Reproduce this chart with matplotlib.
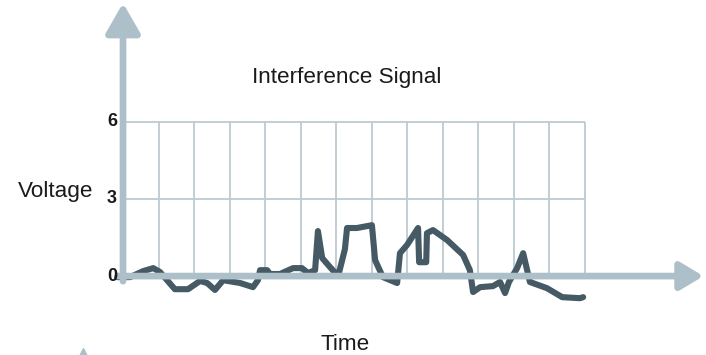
import matplotlib
matplotlib.use('Agg')
import matplotlib.pyplot as plt

# signal trace (time in grid cells, voltage)
time = [-0.17, 0.20, 0.56, 0.85, 1.04, 1.46, 1.83, 2.17, 2.37, 2.59, 2.82, 3.30, 3.66,
        3.80, 3.86, 4.06, 4.14, 4.42, 4.79, 5.04, 5.21, 5.41, 5.49, 5.61, 5.83, 6.06,
        6.25, 6.31, 6.59, 7.01, 7.10, 7.32, 7.72, 7.80, 8.00, 8.31, 8.34, 8.54, 8.56,
        8.73, 9.13, 9.58, 9.77, 9.86, 10.06, 10.42, 10.62, 10.76, 10.87, 11.10, 11.27,
        11.46, 11.94, 12.37, 12.87, 12.96]
voltage = [-0.04, -0.04, 0.19, 0.31, 0.16, -0.51, -0.51, -0.19, -0.27, -0.54, -0.16,
           -0.27, -0.43, -0.16, 0.23, 0.23, 0.08, 0.08, 0.31, 0.31, 0.12, 0.23, 1.75,
           0.70, 0.35, 0.0, 1.05, 1.87, 1.87, 1.98, 0.62, -0.04, -0.27, 0.89, 1.21, 1.87,
           0.54, 0.54, 1.67, 1.79, 1.40, 0.82, 0.23, -0.62, -0.43, -0.39, -0.23, -0.66,
           -0.23, 0.31, 0.89, -0.23, -0.47, -0.82, -0.86, -0.82]

y_ticks = [0, 3, 6]
y_tick_labels = ['0', '3', '6']
n_cols = 13

axis_col = '#adbfc8'
grid_col = '#bccbd2'
line_col = '#455a64'
text_col = '#1a1a1a'
font = 'Liberation Sans'

fig = plt.figure(figsize=(7.06, 3.55), dpi=100)
ax = fig.add_axes([0, 0, 1, 1])
ax.set_xlim(-3.465, 16.42)
ax.set_ylim(-3.07, 10.74)
ax.axis('off')

# grid
ax.vlines(range(1, n_cols + 1), 0, 6, color=grid_col, lw=1.3)
ax.hlines([3, 6], 0, n_cols, color=grid_col, lw=1.3)

# axes arrows
ax.annotate('', xy=(0, 10.62), xytext=(0, -0.2),
            arrowprops=dict(arrowstyle='-|>,head_length=1.3,head_width=0.75',
                            lw=4.8, color=axis_col, shrinkA=0, shrinkB=0,
                            mutation_scale=14))
ax.annotate('', xy=(16.35, 0), xytext=(-0.15, 0),
            arrowprops=dict(arrowstyle='-|>,head_length=1.0,head_width=0.6',
                            lw=4.8, color=axis_col, shrinkA=0, shrinkB=0,
                            mutation_scale=14))

# signal
ax.plot(time, voltage, color=line_col, lw=4.4, solid_joinstyle='round',
        solid_capstyle='round')

for v, lab in zip(y_ticks, y_tick_labels):
    ax.text(-0.17, v, lab, ha='right', va='center', fontsize=13,
            fontweight='bold', family=font, color=text_col)

ax.text(6.31, 7.51, 'Interference Signal', ha='center', va='baseline',
        fontsize=16.2, family=font, color=text_col)
ax.text(-2.96, 3.07, 'Voltage', ha='left', va='baseline', fontsize=16.2,
        family=font, color=text_col)
ax.text(6.25, -2.88, 'Time', ha='center', va='baseline', fontsize=16.2,
        family=font, color=text_col)

# tip of the next drawing, cut off at the bottom
ax.plot([-1.13], [-3.0], marker='^', ms=7, color=axis_col, clip_on=False)

fig.savefig('out.png', dpi=100)
